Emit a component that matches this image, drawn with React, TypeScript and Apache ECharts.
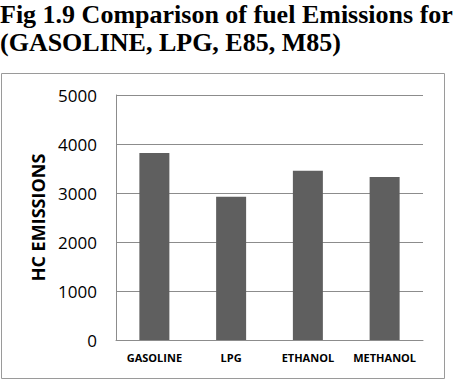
import React, { useEffect, useRef } from "react";
import * as echarts from "echarts";

const categories = ["GASOLINE", "LPG", "ETHANOL", "METHANOL"];
const hcEmissions = [3815, 2925, 3455, 3325];
const titleLines = ["Fig 1.9 Comparison of fuel Emissions for", "(GASOLINE, LPG, E85, M85)"];
const yAxisName = "HC EMISSIONS";

export default function App() {
  const ref = useRef<HTMLDivElement>(null);

  useEffect(() => {
    if (!ref.current) return;
    const chart = echarts.init(ref.current, null, { renderer: "svg" });
    const titleFont = 'bold 26px "Liberation Serif"';
    chart.setOption({
      animation: false,
      backgroundColor: "#ffffff",
      graphic: [
        {
          type: "text",
          left: 0,
          top: 1,
          style: { text: titleLines[0], font: titleFont, fill: "#000" },
        },
        {
          type: "text",
          left: 0,
          top: 29,
          style: { text: titleLines[1], font: titleFont, fill: "#000" },
        },
        {
          type: "rect",
          shape: { x: 1.5, y: 73.5, width: 443, height: 305 },
          style: { fill: "none", stroke: "#9a9a9a", lineWidth: 1 },
          z: -1,
        },
      ],
      grid: { left: 116, top: 95, width: 307, height: 245 },
      xAxis: {
        type: "category",
        data: categories,
        axisLine: { lineStyle: { color: "#8c8c8c", width: 1 } },
        axisTick: { show: false },
        axisLabel: {
          interval: 0,
          color: "#000",
          fontFamily: "Open Sans",
          fontWeight: "bold",
          fontSize: 11,
          margin: 12,
        },
      },
      yAxis: {
        type: "value",
        min: 0,
        max: 5000,
        interval: 1000,
        name: yAxisName,
        nameLocation: "middle",
        nameGap: 68,
        nameTextStyle: {
          color: "#000",
          fontFamily: "Open Sans",
          fontWeight: "bold",
          fontSize: 18,
        },
        axisLine: { show: true, lineStyle: { color: "#8c8c8c", width: 1 } },
        axisTick: { show: false },
        splitLine: { lineStyle: { color: "#8c8c8c", width: 1 } },
        axisLabel: {
          color: "#000",
          fontFamily: "Open Sans",
          fontSize: 17,
          margin: 19,
          formatter: (v: number) => String(v),
        },
      },
      series: [
        {
          type: "bar",
          data: hcEmissions,
          barWidth: 30,
          itemStyle: { color: "#5f5f5f" },
        },
      ],
    });
    return () => chart.dispose();
  }, []);

  return (
    <div
      ref={ref}
      style={{ position: "absolute", left: 0, top: 0, width: 468, height: 386 }}
    />
  );
}
